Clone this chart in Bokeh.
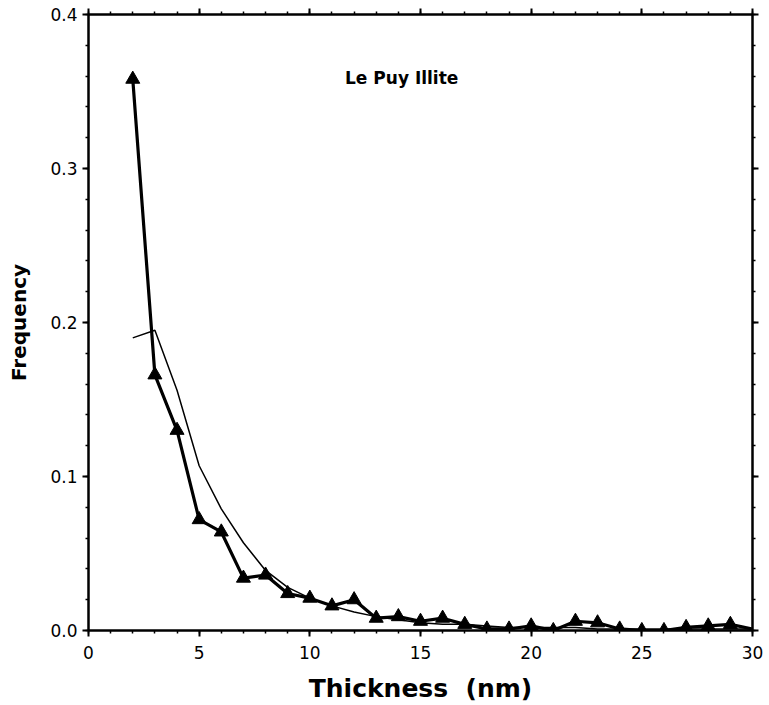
from bokeh.plotting import figure
from bokeh.models import Range1d, FixedTicker, LinearAxis, NumeralTickFormatter, Label
from bokeh.embed import file_html
from bokeh.resources import INLINE

# ---- data ----
thickness = [2, 3, 4, 5, 6, 7, 8, 9, 10, 11, 12, 13, 14, 15, 16, 17, 18, 19, 20,
             21, 22, 23, 24, 25, 26, 27, 28, 29, 30]
measured = [0.358, 0.166, 0.130, 0.072, 0.064, 0.034, 0.036, 0.024, 0.021, 0.016,
            0.020, 0.008, 0.009, 0.006, 0.008, 0.004, 0.001, 0.001, 0.003, 0.000,
            0.006, 0.005, 0.001, 0.000, 0.000, 0.002, 0.003, 0.004, 0.001]
fitted = [0.190, 0.195, 0.156, 0.107, 0.079, 0.057, 0.039, 0.028, 0.021, 0.016,
          0.012, 0.009, 0.007, 0.005, 0.004, 0.004, 0.003, 0.002, 0.002, 0.002,
          0.002, 0.001, 0.001, 0.001, 0.001, 0.001, 0.001, 0.001, 0.001]
x_major = [0, 5, 10, 15, 20, 25, 30]
x_minor = list(range(0, 31))
y_major = [0.0, 0.1, 0.2, 0.3, 0.4]
y_minor = [0.0, 0.02, 0.04, 0.06, 0.08, 0.1, 0.12, 0.14, 0.16, 0.18, 0.2, 0.22,
           0.24, 0.26, 0.28, 0.3, 0.32, 0.34, 0.36, 0.38, 0.4]
title_text = "Le Puy Illite"
x_title = "Thickness\u00a0\u00a0(nm)"
y_title = "Frequency"

FONT = "DejaVu Sans"

p = figure(width=764, height=705, output_backend="svg", toolbar_location=None,
           x_range=Range1d(0, 30), y_range=Range1d(0, 0.4),
           min_border_left=88, min_border_right=12, min_border_top=14,
           min_border_bottom=75, x_axis_location=None, y_axis_location=None)
p.grid.visible = False
p.outline_line_color = "black"
p.outline_line_width = 2
p.background_fill_color = "white"
p.border_fill_color = "white"


def style(ax, labels=True):
    ax.axis_line_color = "black"
    ax.axis_line_width = 2
    ax.major_tick_line_width = 2
    ax.minor_tick_line_width = 1.5
    ax.major_tick_in = 0
    ax.major_tick_out = 6
    ax.minor_tick_in = 0
    ax.minor_tick_out = 3
    ax.major_label_text_font = FONT
    if labels:
        ax.major_label_text_color = "black"
        ax.major_label_text_font_size = "17px"
    else:
        ax.major_label_text_color = None
        ax.major_label_text_font_size = "0px"
        ax.major_label_standoff = 0


xt = FixedTicker(ticks=x_major, minor_ticks=x_minor)
yt = FixedTicker(ticks=y_major, minor_ticks=y_minor)

bottom = LinearAxis(ticker=xt, axis_label=x_title)
style(bottom)
bottom.major_label_standoff = 9
bottom.axis_label_standoff = 12
bottom.axis_label_text_font = FONT
bottom.axis_label_text_font_style = "bold"
bottom.axis_label_text_font_size = "25px"
bottom.axis_label_text_color = "black"
p.add_layout(bottom, "below")

left = LinearAxis(ticker=yt, axis_label=y_title,
                  formatter=NumeralTickFormatter(format="0.0"))
style(left)
left.major_label_standoff = 5
left.axis_label_standoff = 16
left.axis_label_text_font = FONT
left.axis_label_text_font_style = "bold"
left.axis_label_text_font_size = "20px"
left.axis_label_text_color = "black"
p.add_layout(left, "left")

top = LinearAxis(ticker=FixedTicker(ticks=x_major, minor_ticks=x_minor))
style(top, labels=False)
p.add_layout(top, "above")

right = LinearAxis(ticker=FixedTicker(ticks=y_major, minor_ticks=y_minor))
style(right, labels=False)
p.add_layout(right, "right")

# fitted curve (thin)
p.line(thickness, fitted, line_color="black", line_width=1.5)
# measured (thick with triangles)
p.line(thickness, measured, line_color="black", line_width=3.2)
p.scatter(thickness[:-1], measured[:-1], marker="triangle", size=14,
          fill_color="black", line_color="black")

p.add_layout(Label(x=14.15, y=0.359, text=title_text, text_font=FONT,
                   text_font_style="bold", text_font_size="17px",
                   text_align="center", text_baseline="middle",
                   text_color="black"))

open("out.html", "w").write(file_html(p, INLINE))
